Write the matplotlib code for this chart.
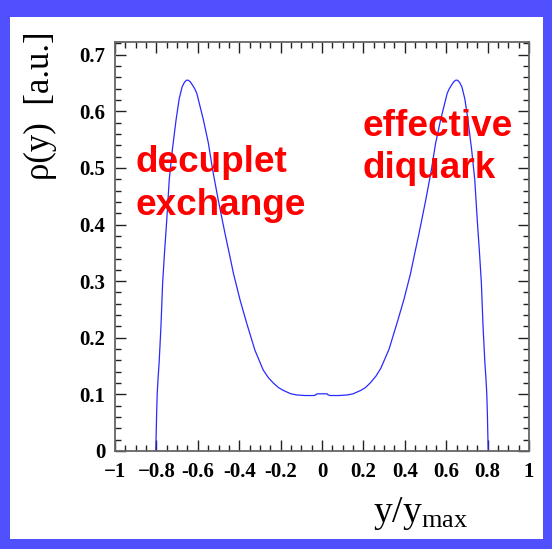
import numpy as np
import matplotlib
matplotlib.use("Agg")
import matplotlib.pyplot as plt
from matplotlib.patches import Rectangle
from matplotlib.ticker import MultipleLocator

# ----------------------------
# Data
# ----------------------------
y_ratio = [-0.803, -0.801, -0.799, -0.796, -0.792, -0.787, -0.778, -0.770, -0.760,
           -0.750, -0.738, -0.723, -0.705, -0.690, -0.676, -0.665, -0.655, -0.646,
           -0.636, -0.625, -0.615, -0.605, -0.590, -0.573, -0.549, -0.528, -0.501,
           -0.469, -0.441, -0.428, -0.396, -0.364, -0.324, -0.284, -0.260, -0.235,
           -0.210, -0.187, -0.150, -0.122, -0.080, -0.040, -0.030, -0.025, 0.0,
           0.025, 0.030, 0.040, 0.080, 0.122, 0.150, 0.187, 0.210, 0.235, 0.260,
           0.284, 0.324, 0.364, 0.396, 0.428, 0.441, 0.469, 0.501, 0.528, 0.549,
           0.573, 0.590, 0.605, 0.615, 0.625, 0.636, 0.646, 0.655, 0.665, 0.676,
           0.690, 0.705, 0.723, 0.738, 0.750, 0.760, 0.770, 0.778, 0.787, 0.792,
           0.796, 0.799, 0.801, 0.803]
rho = [0.000, 0.030, 0.065, 0.102, 0.128, 0.155, 0.220, 0.296, 0.355,
       0.408, 0.479, 0.532, 0.585, 0.622, 0.643, 0.651, 0.655, 0.655,
       0.652, 0.646, 0.640, 0.632, 0.610, 0.585, 0.544, 0.496, 0.443,
       0.385, 0.337, 0.314, 0.267, 0.226, 0.178, 0.143, 0.130, 0.120,
       0.112, 0.107, 0.101, 0.099, 0.098, 0.098, 0.099, 0.101, 0.101,
       0.101, 0.099, 0.098, 0.098, 0.099, 0.101, 0.107, 0.112, 0.121, 0.132,
       0.146, 0.180, 0.228, 0.268, 0.314, 0.337, 0.385, 0.443, 0.496, 0.544,
       0.585, 0.610, 0.632, 0.640, 0.646, 0.652, 0.655, 0.655, 0.651, 0.643,
       0.622, 0.585, 0.532, 0.479, 0.408, 0.355, 0.296, 0.220, 0.155, 0.128,
       0.102, 0.065, 0.030, 0.000]

x_ticks = [-1, -0.8, -0.6, -0.4, -0.2, 0, 0.2, 0.4, 0.6, 0.8, 1]
x_ticklabels = ["\u22121", "\u22120.8", "-0.6", "-0.4", "-0.2", "0",
                "0.2", "0.4", "0.6", "0.8", "1"]
y_ticks = [0, 0.1, 0.2, 0.3, 0.4, 0.5, 0.6, 0.7]
y_ticklabels = ["0", "0.1", "0.2", "0.3", "0.4", "0.5", "0.6", "0.7"]

plt.rcParams["mathtext.fontset"] = "custom"
plt.rcParams["mathtext.rm"] = "Liberation Serif"

fig = plt.figure(figsize=(5.52, 5.49), dpi=100)
fig.patch.set_facecolor("#5050FF")
fig.patches.append(Rectangle((10 / 552, 10 / 549), 533 / 552, 522 / 549,
                             transform=fig.transFigure, facecolor="white",
                             edgecolor="none", zorder=-10))

ax = fig.add_axes([115 / 552, 1 - 451 / 549, 414 / 552, 409 / 549])
ax.set_zorder(1)
ax.plot(y_ratio, rho, color="#2a2aff", lw=0.9)
ax.set_xlim(-1, 1)
ax.set_ylim(0, 0.7225)

ax.set_xticks(x_ticks)
ax.set_xticklabels(x_ticklabels)
ax.set_yticks(y_ticks)
ax.set_yticklabels(y_ticklabels)
ax.xaxis.set_minor_locator(MultipleLocator(0.05))
ax.yaxis.set_minor_locator(MultipleLocator(0.02))
ax.tick_params(which="both", direction="in", top=True, right=True, color="#222222")
ax.tick_params(which="major", length=8, width=1.0)
ax.tick_params(which="minor", length=4, width=1.0)
ax.tick_params(axis="x", pad=8)
ax.tick_params(axis="y", pad=7)
for lab in ax.get_xticklabels() + ax.get_yticklabels():
    lab.set_fontfamily("Liberation Serif")
    lab.set_fontweight("bold")
    lab.set_fontsize(15)
for sp in ax.spines.values():
    sp.set_color("#666666")
    sp.set_linewidth(1.3)

# annotations (baseline of the last line)
ax.text(-0.903, 0.417, "decuplet\nexchange", color="red", fontsize=26.6,
        fontweight="bold", family="Liberation Sans", ha="left", va="baseline",
        linespacing=1.28)
ax.text(0.198, 0.482, "effective\ndiquark", color="red", fontsize=26.6,
        fontweight="bold", family="Liberation Sans", ha="left", va="baseline",
        linespacing=1.28)

# axis labels
fig.text(40 / 552, 1 - 106 / 549, "\u03c1(y)  [a.u.]", rotation=90,
         family="Liberation Serif", fontsize=25, ha="center", va="center")
fig.text(421 / 552, 1 - 513 / 549, r"$\mathrm{y/y_{max}}$",
         fontsize=27, ha="center", va="center")

fig.savefig("out.png", dpi=100, facecolor=fig.get_facecolor())
